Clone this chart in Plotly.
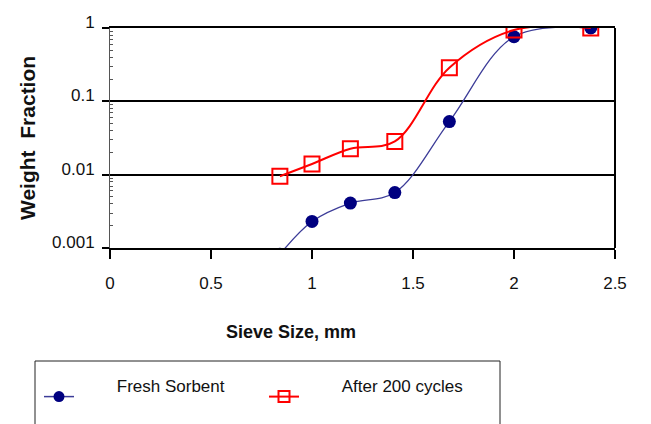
import plotly.graph_objects as go

# ---- data ----
sieve_mm = [0.841, 1.0, 1.19, 1.41, 1.68, 2.0, 2.38]
fresh_sorbent = [0.00082, 0.0023, 0.0041, 0.0057, 0.053, 0.76, 1.0]
after_200_cycles = [0.0095, 0.014, 0.0226, 0.0284, 0.288, 0.94, 1.0]

x_tick_vals = [0, 0.5, 1, 1.5, 2, 2.5]
x_tick_text = ["0", "0.5", "1", "1.5", "2", "2.5"]
y_tick_vals = [0.001, 0.01, 0.1, 1]
y_tick_text = ["0.001", "0.01", "0.1", "1"]

series_names = ["Fresh Sorbent", "After 200 cycles"]

W, H = 651, 424
L, R, T, B = 110, 36, 28, 176
pw, ph = W - L - R, H - T - B

FONT = "Liberation Sans, Arial, sans-serif"
pad = "\u00a0" * 8

BLUE_LINE = "#3c3c98"
BLUE_MARK = "#000080"
RED = "#ff0000"

# minor log ticks (2..9 within each decade)
y_minor_vals = [k * 10.0 ** e for e in (-3, -2, -1) for k in range(2, 10)]


def px_to_paper_x(px):
    return (px - L) / pw


def px_to_paper_y(py):
    return (H - B - py) / ph


fig = go.Figure()
# data traces
fig.add_trace(go.Scatter(
    x=sieve_mm, y=fresh_sorbent, name=series_names[0], showlegend=False,
    mode="lines+markers", line=dict(color=BLUE_LINE, width=1.3, shape="spline", smoothing=1),
    marker=dict(symbol="circle", size=13, color=BLUE_MARK),
))
fig.add_trace(go.Scatter(
    x=sieve_mm, y=after_200_cycles, name=series_names[1], showlegend=False,
    mode="lines+markers", line=dict(color=RED, width=2, shape="spline", smoothing=1),
    marker=dict(symbol="square-open", size=15, color=RED, line=dict(width=2, color=RED)),
))
# legend entries (same styles, legend-sized markers)
fig.add_trace(go.Scatter(
    x=[None], y=[None], name=pad + series_names[0] + "<br>\u00a0",
    mode="lines+markers", line=dict(color=BLUE_LINE, width=1.5),
    marker=dict(symbol="circle", size=11, color=BLUE_MARK),
))
fig.add_trace(go.Scatter(
    x=[None], y=[None], name=pad + series_names[1] + "<br>\u00a0",
    mode="lines+markers", line=dict(color=RED, width=2),
    marker=dict(symbol="square-open", size=11, color=RED, line=dict(width=2, color=RED)),
))

fig.update_layout(
    width=W, height=H,
    margin=dict(l=L, r=R, t=T, b=B, autoexpand=False),
    paper_bgcolor="white", plot_bgcolor="white",
    font=dict(family=FONT, size=17, color="#111111"),
    showlegend=True,
    legend=dict(
        orientation="h", xref="container", yref="container",
        x=39 / W, xanchor="left", y=1 - 368 / H, yanchor="top",
        bgcolor="rgba(0,0,0,0)", borderwidth=0,
        itemsizing="trace", valign="middle",
        entrywidth=180, entrywidthmode="pixels",
        font=dict(family=FONT, size=17, color="#111111"),
        itemclick=False, itemdoubleclick=False,
    ),
    xaxis=dict(
        range=[0, 2.5], tickmode="array", tickvals=x_tick_vals, ticktext=x_tick_text,
        showgrid=False, zeroline=False, automargin=False,
        showline=True, linecolor="black", linewidth=2, mirror=True,
        ticks="outside", ticklen=9, tickwidth=2, tickcolor="black",
        ticklabelstandoff=10,
        tickfont=dict(family=FONT, size=17, color="#111111"),
    ),
    yaxis=dict(
        type="log", range=[-3, 0], tickmode="array", tickvals=y_tick_vals, ticktext=y_tick_text,
        showgrid=True, gridcolor="black", gridwidth=2, zeroline=False, automargin=False,
        showline=True, linecolor="#555555", linewidth=1,
        ticks="outside", ticklen=7, tickwidth=2, tickcolor="black",
        ticklabelposition="outside top", ticklabelstandoff=11, ticklabelshift=7,
        tickfont=dict(family=FONT, size=17, color="#111111"),
        minor=dict(tickmode="array", tickvals=y_minor_vals, ticks="inside", ticklen=3,
                   tickcolor="#555555", tickwidth=1, showgrid=False),
    ),
    annotations=[
        dict(text="<b>Sieve Size, mm</b>", xref="paper", yref="paper",
             x=px_to_paper_x(291), y=px_to_paper_y(332), xanchor="center", yanchor="middle",
             showarrow=False, font=dict(family=FONT, size=18, color="#111111")),
        dict(text="<b>Weight  Fraction</b>", xref="paper", yref="paper", textangle=-90,
             x=px_to_paper_x(27), y=0.5, xanchor="center", yanchor="middle",
             showarrow=False, font=dict(family=FONT, size=21, color="#111111")),
    ],
    shapes=[
        dict(type="line", xref="paper", yref="paper", x0=1, x1=1, y0=0, y1=1,
             line=dict(color="black", width=2)),
        dict(type="rect", xref="paper", yref="paper",
             x0=px_to_paper_x(35), x1=px_to_paper_x(500),
             y0=px_to_paper_y(361), y1=px_to_paper_y(440),
             line=dict(color="#222222", width=1), fillcolor="rgba(0,0,0,0)"),
    ],
)

fig.write_html("out.html")
